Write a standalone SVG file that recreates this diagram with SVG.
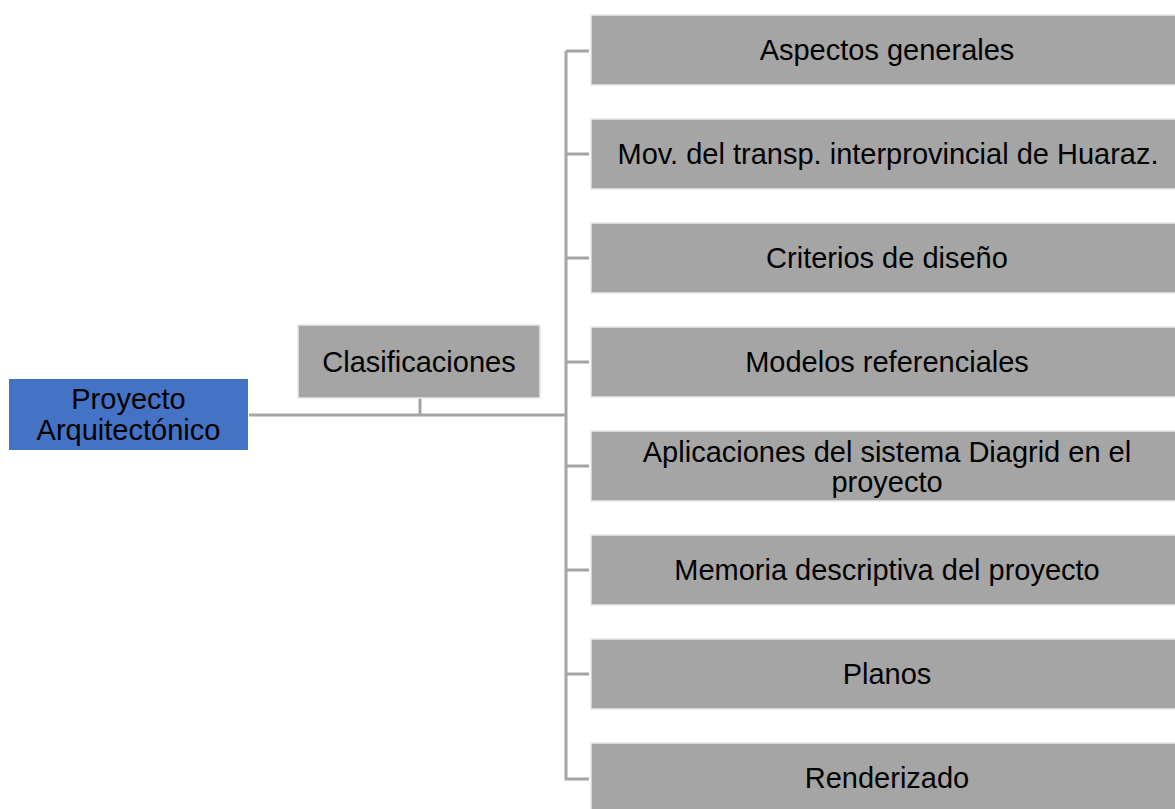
<svg xmlns="http://www.w3.org/2000/svg" width="1175" height="809" viewBox="0 0 1175 809">
<style>
.t{font-family:"Liberation Sans",Arial,sans-serif;font-size:29px;fill:#000;text-anchor:middle;dominant-baseline:central}
.g{fill:#A5A5A5;stroke:#E8E8E8;stroke-width:1.5}
.c{fill:none;stroke:#A5A5A5;stroke-width:3}
</style>
<rect width="1175" height="809" fill="#fff"/>
<g id="connectors">
<path class="c" d="M249 415H566M420 398V415M566 51V779H589M566 51H589M566 154H589M566 258H589M566 362H589M566 466H589M566 570H589M566 674H589"/>
</g>
<g id="root">
<rect x="9" y="379" width="239" height="71" fill="#4472C4"/>
<text class="t" x="128.5" y="399">Proyecto</text>
<text class="t" x="128.5" y="430">Arquitectónico</text>
</g>
<g id="clasificaciones">
<rect class="g" x="298" y="325" width="242" height="73" stroke-width="3"/>
<text class="t" x="419" y="362">Clasificaciones</text>
</g>
<g id="n1"><rect class="g" x="591" y="15" width="600" height="70"/><text class="t" x="887" y="50">Aspectos generales</text></g>
<g id="n2"><rect class="g" x="591" y="119" width="600" height="70"/><text class="t" x="888" y="154">Mov. del transp. interprovincial de Huaraz.</text></g>
<g id="n3"><rect class="g" x="591" y="223" width="600" height="70"/><text class="t" x="887" y="258">Criterios de diseño</text></g>
<g id="n4"><rect class="g" x="591" y="327" width="600" height="70"/><text class="t" x="887" y="362">Modelos referenciales</text></g>
<g id="n5"><rect class="g" x="591" y="431" width="600" height="70"/><text class="t" x="887" y="452">Aplicaciones del sistema Diagrid en el</text><text class="t" x="887" y="482">proyecto</text></g>
<g id="n6"><rect class="g" x="591" y="535" width="600" height="70"/><text class="t" x="887" y="570">Memoria descriptiva del proyecto</text></g>
<g id="n7"><rect class="g" x="591" y="639" width="600" height="70"/><text class="t" x="887" y="674">Planos</text></g>
<g id="n8"><rect class="g" x="591" y="743" width="600" height="70"/><text class="t" x="887" y="778">Renderizado</text></g>
</svg>
